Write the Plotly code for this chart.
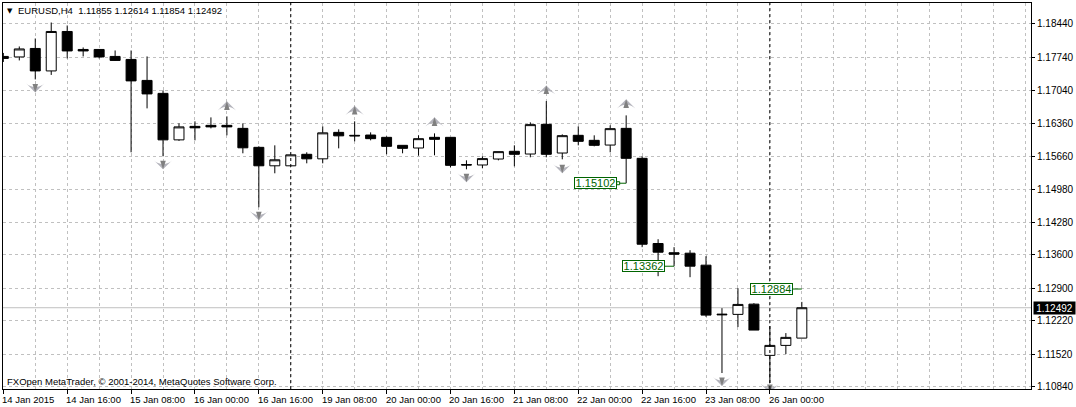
import plotly.graph_objects as go

opens  = [1.17760,1.17749,1.17927,1.17456,1.18283,1.17906,1.17906,1.17760,1.17697,1.17257,1.16985,1.16011,1.16294,1.16315,1.16315,1.16252,1.15854,1.15467,1.15467,1.15708,1.15613,1.16168,1.16106,1.16112,1.16064,1.15896,1.15840,1.16064,1.16064,1.15492,1.15484,1.15609,1.15771,1.15714,1.16336,1.15735,1.16106,1.16001,1.15902,1.16252,1.15624,1.13838,1.13645,1.13635,1.13384,1.12358,1.12352,1.12567,1.11493,1.11702,1.11855]
highs  = [1.17833,1.17969,1.18136,1.18471,1.18409,1.17948,1.17906,1.17885,1.17885,1.17760,1.17048,1.16357,1.16399,1.16482,1.16503,1.16357,1.15875,1.15896,1.15697,1.15750,1.16294,1.16231,1.16399,1.16168,1.16085,1.15896,1.16106,1.16147,1.16064,1.15582,1.15666,1.15764,1.15896,1.16378,1.16824,1.16126,1.16294,1.16106,1.16315,1.16524,1.15666,1.13928,1.13761,1.13698,1.13572,1.12483,1.12902,1.12588,1.12107,1.11960,1.12614]
lows   = [1.17644,1.17676,1.17278,1.17372,1.17718,1.17760,1.17718,1.17665,1.15750,1.16671,1.15666,1.15990,1.16001,1.16252,1.16106,1.15729,1.14598,1.15310,1.15467,1.15519,1.15519,1.15833,1.15980,1.16001,1.15708,1.15729,1.15680,1.15687,1.15436,1.15394,1.15415,1.15582,1.15456,1.15645,1.15645,1.15603,1.15896,1.15875,1.15750,1.15102,1.13761,1.13153,1.13362,1.13132,1.12301,1.11123,1.12086,1.12023,1.10913,1.11520,1.11854]
closes = [1.17718,1.17917,1.17456,1.18283,1.17875,1.17875,1.17749,1.17676,1.17247,1.16974,1.16011,1.16283,1.16263,1.16283,1.16283,1.15844,1.15467,1.15593,1.15697,1.15613,1.16158,1.16095,1.16095,1.16036,1.15875,1.15833,1.16036,1.16022,1.15477,1.15484,1.15618,1.15764,1.15708,1.16330,1.15708,1.16099,1.15980,1.15896,1.16246,1.15624,1.13823,1.13656,1.13614,1.13363,1.12337,1.12345,1.12561,1.12023,1.11702,1.11870,1.12492]

up_x = [14,22,27,34,39]
up_p = [1.16818,1.16724,1.16483,1.17153,1.16860]
down_x = [2,10,16,29,35,45,48]
down_p = [1.17005,1.15393,1.14325,1.15121,1.15310,1.10850,1.10703]

label_x = [39,42,50]
label_p = [1.15102,1.13362,1.12884]

separators = [18,48]
y_ticks = [1.18440,1.17740,1.17040,1.16360,1.15660,1.14980,1.14280,1.13600,1.12900,1.12220,1.11520,1.10840]
x_ticks = [0,4,8,12,16,20,24,28,32,36,40,44,48]
x_labels = ["14 Jan 2015","14 Jan 16:00","15 Jan 08:00","16 Jan 00:00","16 Jan 16:00","19 Jan 08:00","20 Jan 00:00","20 Jan 16:00","21 Jan 08:00","22 Jan 00:00","22 Jan 16:00","23 Jan 08:00","26 Jan 00:00"]
x_grid = list(range(2,65,2))
last_price = 1.12492
header = "EURUSD,H4  1.11855 1.12614 1.11854 1.12492"
footer = "FXOpen MetaTrader, © 2001-2014, MetaQuotes Software Corp."

FONT = "Liberation Sans"
FS = 9.5
GRID = "#c0c0c0"
GREEN = "#006400"
W, H = 1076, 407
L, R, T, B = 3, 43, 2, 18
PW, PH = W-L-R, H-T-B
px = lambda v: (v-L)/PW
py = lambda v: (H-B-v)/PH

fig = go.Figure()
fig.add_trace(go.Candlestick(x=list(range(len(opens))), open=opens, high=highs, low=lows, close=closes,
    increasing=dict(line=dict(color="black", width=1), fillcolor="white"),
    decreasing=dict(line=dict(color="black", width=1), fillcolor="black"),
    whiskerwidth=0, hoverinfo="skip", showlegend=False))

def arrows(xs, ps, angle):
    common = dict(mode="markers", showlegend=False, hoverinfo="skip")
    fig.add_trace(go.Scatter(x=xs, y=ps, marker=dict(symbol="arrow-wide", angle=angle, size=13, color="#b4b4bc", line=dict(width=0)), **common))
    fig.add_trace(go.Scatter(x=xs, y=ps, marker=dict(symbol="arrow", angle=angle, size=9, color="#808080", line=dict(width=0)), **common))

arrows(up_x, up_p, 0)
arrows(down_x, down_p, 180)

for n, (xv, pv) in enumerate(zip(label_x, label_p)):
    fig.add_trace(go.Scatter(x=[xv-0.58, xv], y=[pv, pv], mode="lines", showlegend=False, hoverinfo="skip",
        line=dict(color=GREEN, width=1)))
    fig.add_annotation(x=xv, y=pv, xref="x", yref="y", xanchor="right", yanchor="middle", xshift=-9,
        text=f"{pv:.5f}", showarrow=False, font=dict(family=FONT, size=11, color=GREEN),
        bgcolor="white", bordercolor=GREEN, borderwidth=1, borderpad=0, width=41, height=10)
fig.add_trace(go.Scatter(x=[label_x[0]-0.5], y=[label_p[0]], mode="markers", showlegend=False, hoverinfo="skip",
    marker=dict(symbol="square", size=3, color="white", line=dict(color=GREEN, width=1))))

for s in separators:
    fig.add_shape(type="line", xref="x", yref="paper", x0=s, x1=s, y0=0, y1=1,
        line=dict(color="black", width=1, dash="3px,3px"), layer="above")
fig.add_shape(type="line", xref="paper", yref="y", x0=0, x1=1, y0=last_price, y1=last_price,
    line=dict(color=GRID, width=1), layer="below")

for t, lab in zip(x_ticks, x_labels):
    fig.add_annotation(x=t, y=0, xref="x", yref="paper", xanchor="left", yanchor="top", yshift=-3, xshift=-3,
        text=lab, showarrow=False, font=dict(family=FONT, size=FS, color="black"))
fig.add_annotation(x=1, y=last_price, xref="paper", yref="y", xanchor="left", yanchor="middle", xshift=2,
    text=f"{last_price:.5f}", showarrow=False, font=dict(family=FONT, size=10, color="white"),
    bgcolor="black", borderpad=0, width=41, height=12)
fig.add_annotation(x=px(16), y=py(10), xref="paper", yref="paper", xanchor="left", yanchor="middle",
    text=header.replace("  ", "&nbsp;&nbsp;"), showarrow=False, font=dict(family=FONT, size=FS, color="black"))
fig.add_annotation(x=px(5.5), y=py(10), xref="paper", yref="paper", xanchor="left", yanchor="middle",
    text="▼", showarrow=False, font=dict(family="DejaVu Sans", size=7, color="black"))
fig.add_annotation(x=px(5), y=py(381), xref="paper", yref="paper", xanchor="left", yanchor="middle",
    text=footer, showarrow=False, font=dict(family=FONT, size=FS, color="black"))

fig.update_layout(width=W, height=H, autosize=False, margin=dict(l=L, r=R, t=T, b=B),
    paper_bgcolor="white", plot_bgcolor="white", showlegend=False, boxgap=0.375, boxgroupgap=0,
    font=dict(family=FONT, size=FS, color="black"),
    xaxis=dict(range=[-0.02,64.35], rangeslider=dict(visible=False), tickmode="array", tickvals=x_ticks,
        ticktext=[""]*len(x_ticks), ticks="outside", ticklen=4, tickcolor="black", tickwidth=1,
        showgrid=True, gridcolor=GRID, griddash="3px,3px", gridwidth=1, zeroline=False,
        showline=True, linecolor="black", linewidth=1, mirror=True,
        minor=dict(tickmode="array", tickvals=x_grid, showgrid=True, gridcolor=GRID, griddash="3px,3px", gridwidth=1, ticks="")),
    yaxis=dict(range=[1.10788,1.18880], side="right", tickmode="array", tickvals=y_ticks,
        ticktext=[f"{v:.5f}" for v in y_ticks], ticks="outside", ticklen=3, tickcolor="black", tickwidth=1,
        showgrid=True, gridcolor=GRID, griddash="3px,3px", gridwidth=1, zeroline=False,
        showline=True, linecolor="black", linewidth=1, mirror=True,
        tickfont=dict(family=FONT, size=10, color="black")))

fig.write_html("out.html", post_script="document.body.style.margin='0';", config=dict(displayModeBar=False))
